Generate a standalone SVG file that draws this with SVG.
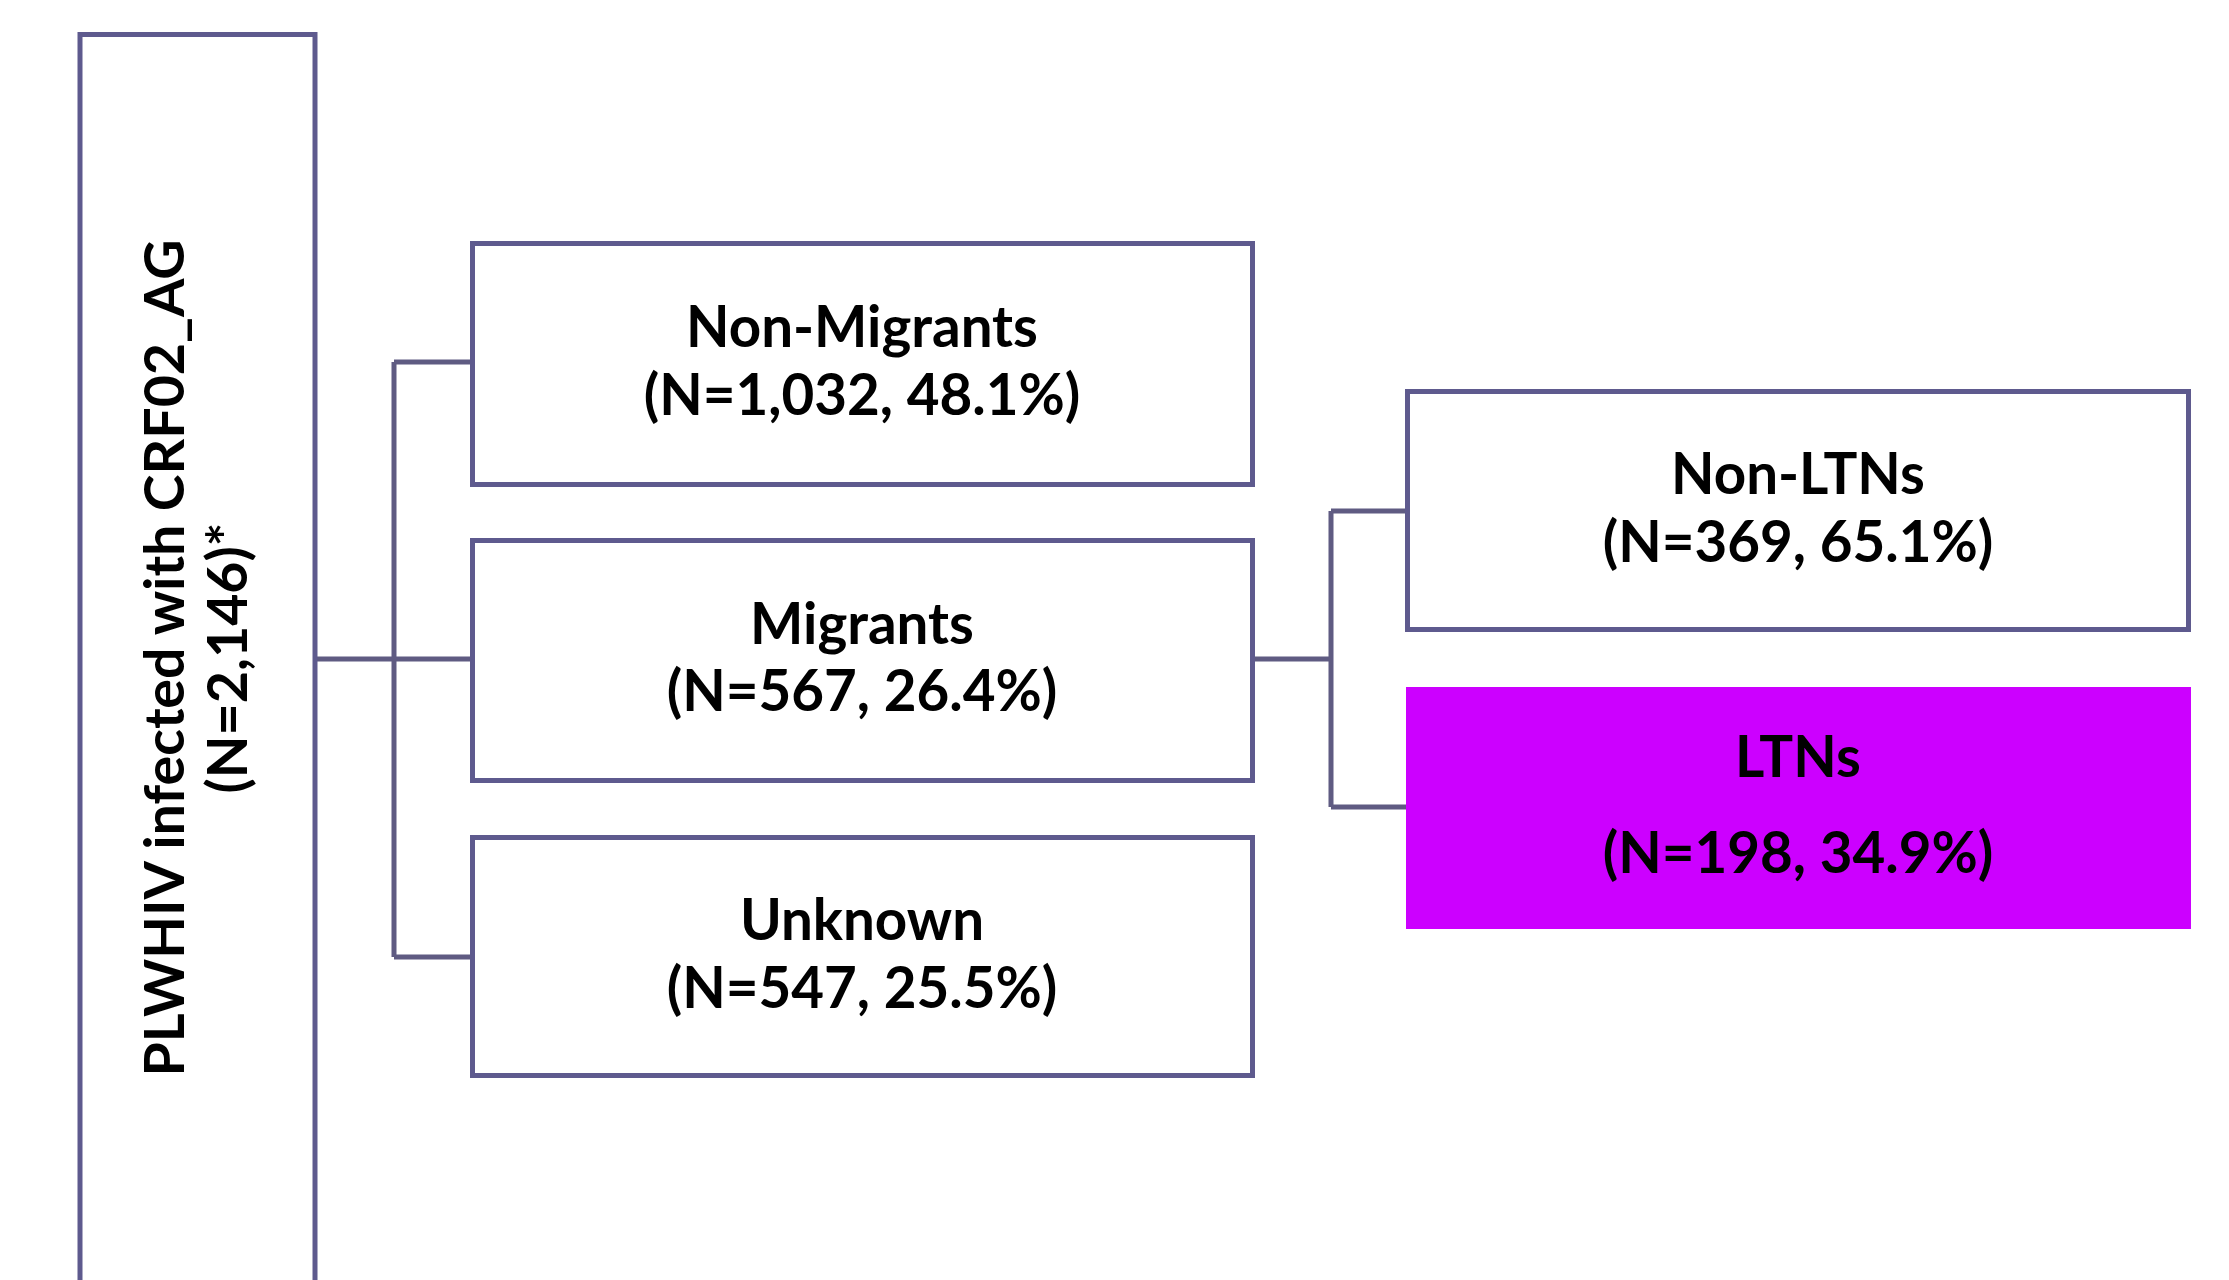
<svg xmlns="http://www.w3.org/2000/svg" width="2229" height="1280" viewBox="0 0 2229 1280">
<style>
.box{fill:#ffffff;stroke:#5e5a8e;stroke-width:5}
.hl{fill:#cc00ff;stroke:none}
.lbl{font-family:Lato,"Open Sans","Liberation Sans",sans-serif;font-weight:700;font-size:56.5px;fill:#000;text-anchor:middle}
.side{font-size:55.5px}
.conn{fill:none;stroke:#5f5b82;stroke-width:5;stroke-linejoin:miter}
</style>
<rect x="0" y="0" width="2229" height="1280" fill="#ffffff"/>
<g id="connectors">
<path class="conn" d="M317 659 H394 M394 362 V957 M394 362 H472 M394 659 H472 M394 957 H472"/>
<path class="conn" d="M1255 659 H1331 M1331 511 V807 M1331 511 H1407 M1331 807 H1407"/>
</g>
<g id="root">
<rect class="box" x="80" y="34.5" width="235" height="1300"/>
<text class="lbl side" transform="translate(184,658) rotate(-90)">PLWHIV infected with CRF02_AG</text>
<text class="lbl side" transform="translate(247,658) rotate(-90)">(N=2,146)*</text>
</g>
<g id="non-migrants">
<rect class="box" x="472.5" y="243.5" width="780" height="241"/>
<text class="lbl" x="862" y="347">Non-Migrants</text>
<text class="lbl" x="862" y="415">(N=1,032, 48.1%)</text>
</g>
<g id="migrants">
<rect class="box" x="472.5" y="540.5" width="780" height="240"/>
<text class="lbl" x="862" y="644">Migrants</text>
<text class="lbl" x="862" y="711">(N=567, 26.4%)</text>
</g>
<g id="unknown">
<rect class="box" x="472.5" y="837.5" width="780" height="238"/>
<text class="lbl" x="862" y="940">Unknown</text>
<text class="lbl" x="862" y="1008">(N=547, 25.5%)</text>
</g>
<g id="non-ltns">
<rect class="box" x="1407.5" y="391.5" width="781" height="238"/>
<text class="lbl" x="1798" y="494">Non-LTNs</text>
<text class="lbl" x="1798" y="562">(N=369, 65.1%)</text>
</g>
<g id="ltns">
<rect class="hl" x="1406" y="687" width="785" height="242"/>
<text class="lbl" x="1798" y="777">LTNs</text>
<text class="lbl" x="1798" y="873">(N=198, 34.9%)</text>
</g>
</svg>
